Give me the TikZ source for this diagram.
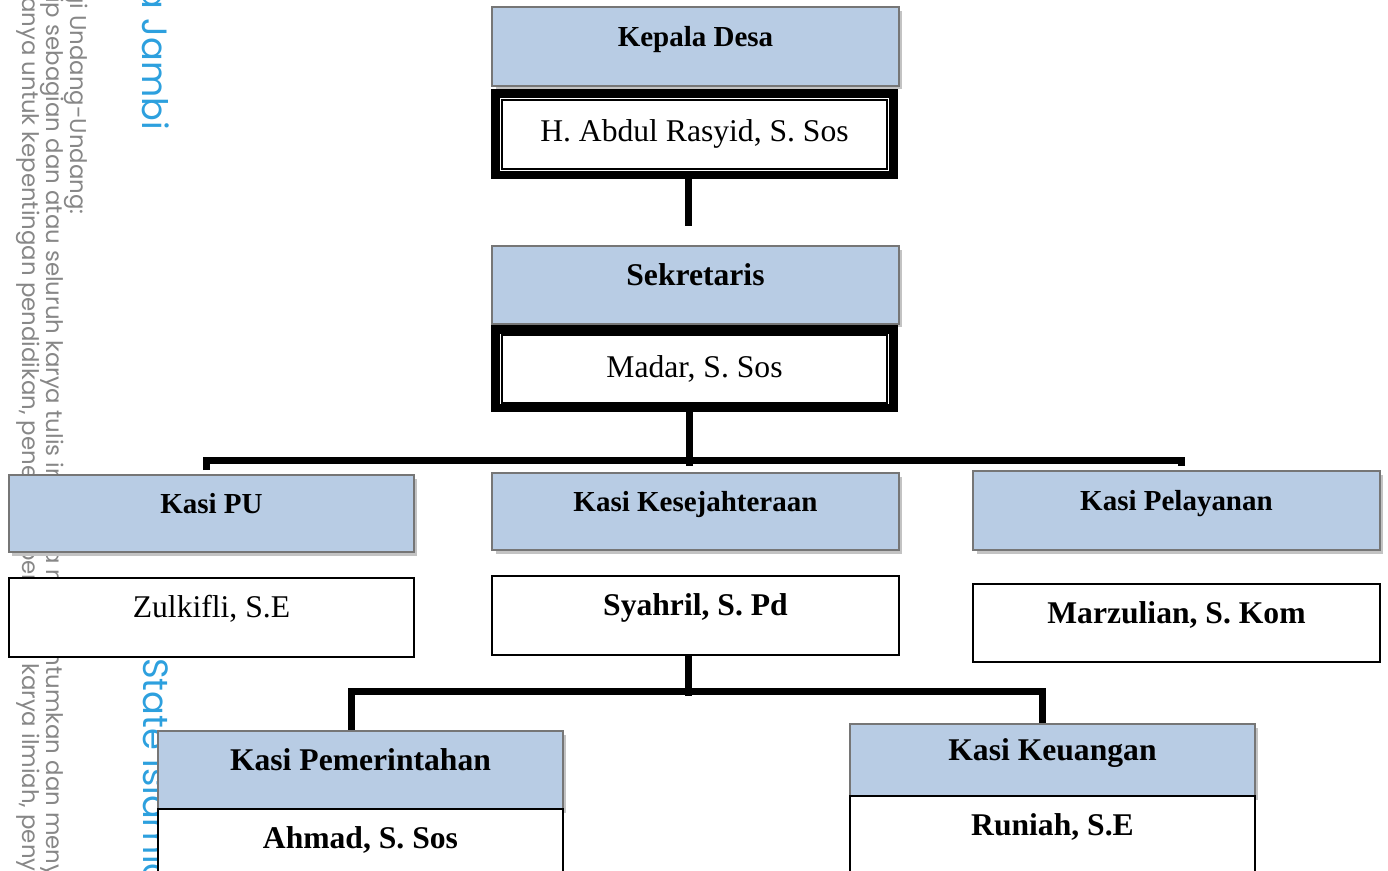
\documentclass[tikz,border=0pt]{standalone}
\usepackage{fontspec}
\setmainfont{Liberation Serif}
\newfontfamily\wmfont{Poppins}
\usetikzlibrary{positioning,calc,shadows}

\definecolor{titleblue}{RGB}{184,204,228}
\definecolor{boxgray}{RGB}{118,118,118}
\definecolor{shadegray}{RGB}{195,195,195}
\definecolor{wmgray}{RGB}{135,135,135}
\definecolor{wmblue}{RGB}{45,160,222}

\tikzset{
  titlebox/.style={draw=boxgray, line width=0.04cm, fill=titleblue, anchor=north west,
    minimum width=8.14cm, text height=0.3cm, text depth=0.3cm,
    font=\fontsize{16.5}{19}\selectfont\bfseries,
    drop shadow={shadow xshift=0.07cm, shadow yshift=-0.07cm, fill=shadegray, opacity=1}},
  bigtitle/.style={font=\fontsize{18}{21}\selectfont\bfseries},
  namebox/.style={draw=black, line width=0.04cm, fill=white, anchor=north west,
    minimum width=8.14cm, minimum height=1.58cm, text height=0.3cm, text depth=0.3cm,
    font=\fontsize{18}{21}\selectfont\bfseries},
  plainname/.style={font=\fontsize{18}{21}\selectfont},
  framebox/.style={draw=black, line width=0.17cm, fill=white, minimum width=7.97cm},
  innerbox/.style={draw=black, line width=0.04cm, minimum width=7.7cm,
    font=\fontsize{18}{21}\selectfont},
  conn/.style={draw=black, line width=0.14cm},
  wm/.style={rotate=-90, text=wmgray, inner sep=0pt, font=\wmfont\fontsize{13}{15}\selectfont},
  wmb/.style={rotate=-90, text=wmblue, inner sep=0pt, font=\wmfont\fontsize{20}{24}\selectfont},
}

\begin{document}
\begin{tikzpicture}[x=0.02cm, y=-0.02cm]
    \useasboundingbox (0,0) rectangle (1388,870);
    \clip (0,0) rectangle (1388,870);

    % watermark on the left margin
    \node[wm, anchor=base east] (wmA) at (70,215) {gi Undang-Undang:};
    \node[wm, anchor=base west] (wmB) at (46,-3) {ip sebagian dan atau seluruh karya tulis ini tanpa mencantumkan dan menyebutkan sumber};
    \node[wm, anchor=base west] (wmC) at (22,-3) {anya untuk kepentingan pendidikan, penelitian, penulisan karya ilmiah, penyusunan};
    \node[wmb, anchor=base east] (wmD) at (142,130) {a Jambi};
    \node[wmb, anchor=base west] (wmE) at (143,658) {State Islamic};

    % Kepala Desa
    \node[titlebox, minimum height=1.58cm] (kades) at (491,6) {Kepala Desa};
    \node[framebox, minimum height=1.63cm] (kadesframe) at (694.5,134) {};
    \node[innerbox, minimum height=1.38cm] (kadesname) at (kadesframe) {H. Abdul Rasyid, S. Sos};

    % Sekretaris
    \node[titlebox, bigtitle, minimum height=1.56cm] (sek) at (491,245) {Sekretaris};
    \node[framebox, minimum height=1.57cm] (sekframe) at (694.5,368.5) {};
    \node[innerbox, minimum height=1.36cm] (sekname) at (sekframe) {Madar, S. Sos};

    % Kepala seksi
    \node[titlebox, minimum width=8.1cm, minimum height=1.54cm] (kpu) at (8,474) {Kasi PU};
    \node[namebox, plainname, minimum width=8.1cm] (kpuname) at (8,577) {Zulkifli, S.E};

    \node[titlebox, minimum height=1.54cm] (kes) at (491,472) {Kasi Kesejahteraan};
    \node[namebox] (kesname) at (491,575) {Syahril, S. Pd};

    \node[titlebox, minimum height=1.58cm] (kpl) at (972,470) {Kasi Pelayanan};
    \node[namebox, minimum height=1.56cm] (kplname) at (972,583) {Marzulian, S. Kom};

    \node[titlebox, bigtitle, minimum width=8.1cm, minimum height=1.56cm] (kpm) at (157,730) {Kasi Pemerintahan};
    \node[namebox, minimum width=8.1cm] (kpmname) at (157,808) {Ahmad, S. Sos};

    \node[titlebox, bigtitle, minimum width=8.1cm, minimum height=1.44cm] (kku) at (849,723) {Kasi Keuangan};
    \node[namebox, minimum width=8.1cm] (kkuname) at (849,795) {Runiah, S.E};

    % connectors
    \coordinate (kdend) at (688,226);
    \coordinate (bus1) at (689,460);
    \coordinate (bus2) at (688,691.5);

    \draw[conn] (kadesframe.south -| kdend) -- (kdend);
    \draw[conn] (sekframe.south -| bus1) -- ($(bus1)+(0,6)$);
    \draw[conn] ($(kpu.north)+(-5,-4)$) |- (bus1) -| ($(kpl.north)+(5,-4)$);

    \draw[conn] (kesname.south -| bus2) -- ($(bus2)+(0,4)$);
    \draw[conn] ($(kpm.north)+(-8.5,0)$) |- (bus2) -| ($(kku.north)+(-10,0)$);
\end{tikzpicture}
\end{document}
